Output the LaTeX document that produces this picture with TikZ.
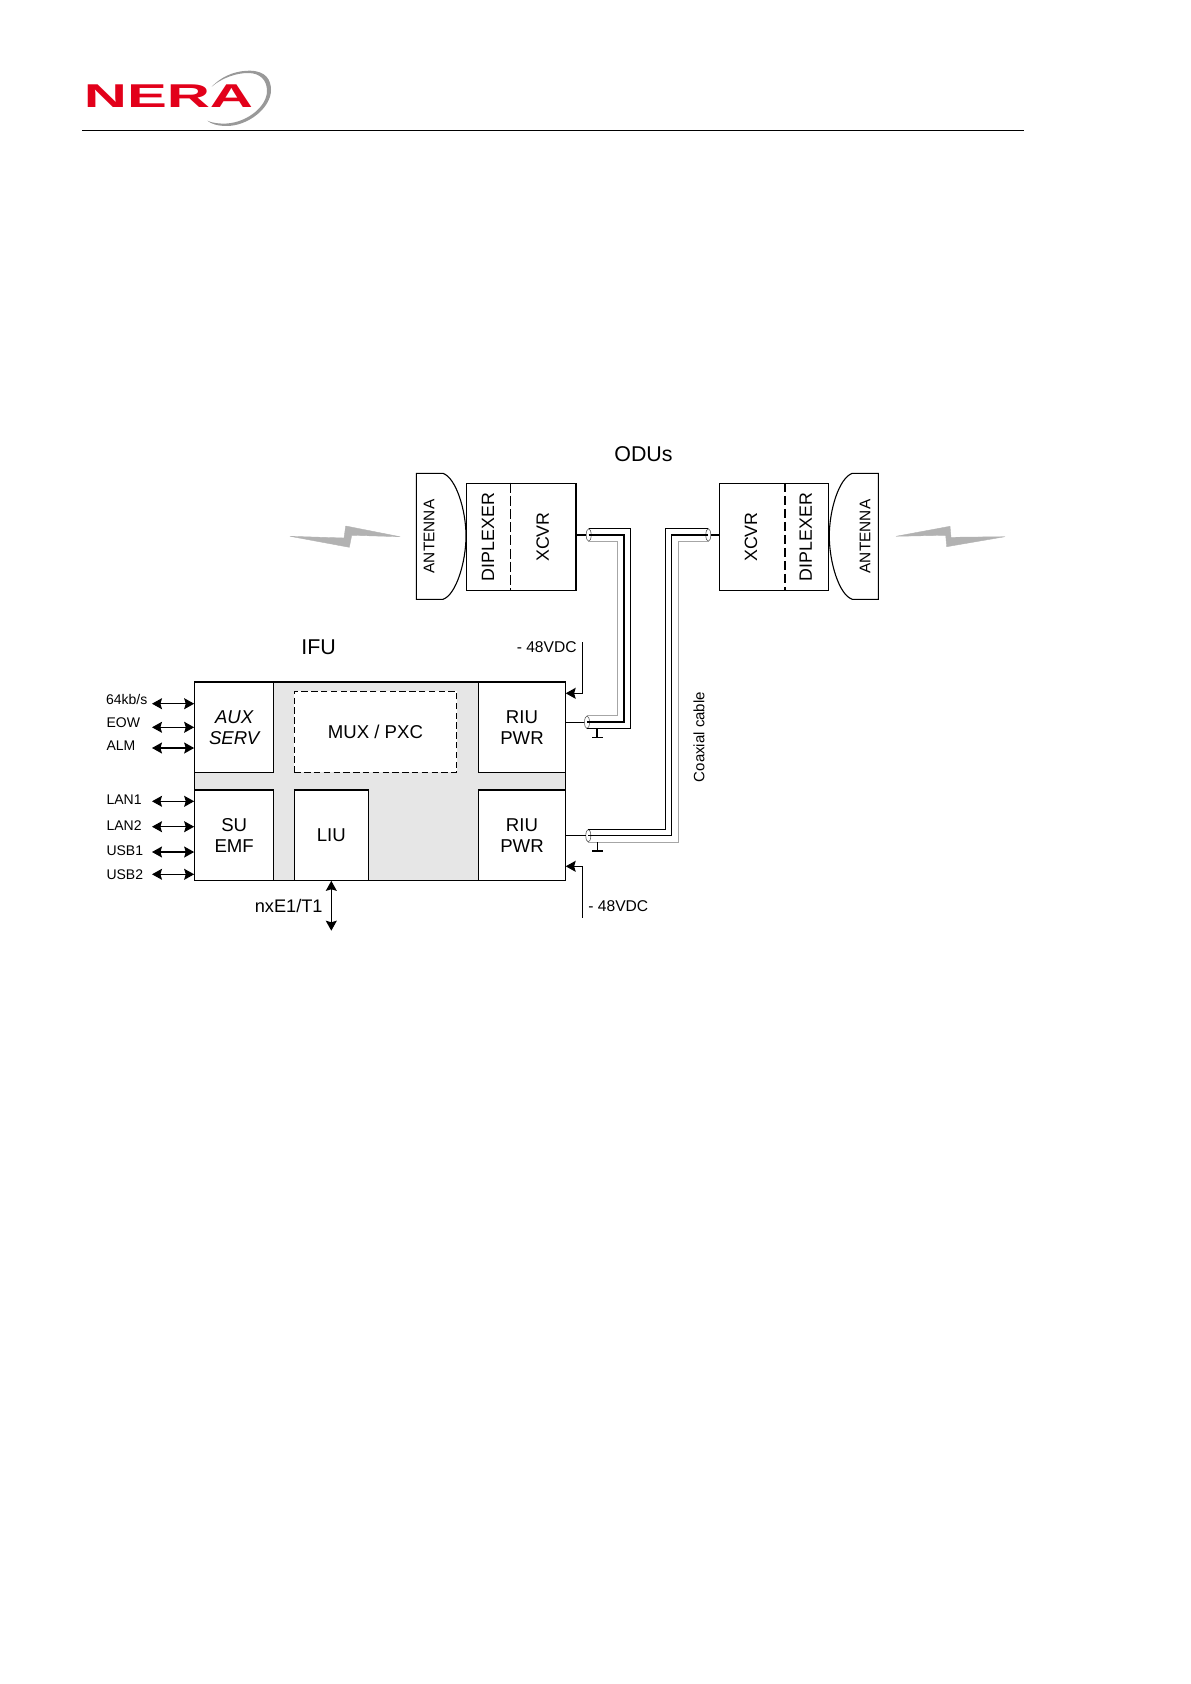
\documentclass[tikz,border=0pt]{standalone}
\usepackage{fontspec}
\setmainfont{Liberation Sans}
\usepackage{xcolor}
\usetikzlibrary{arrows.meta, shapes.geometric}
\definecolor{neraRed}{HTML}{E2001A}
\definecolor{panelGray}{HTML}{E6E6E6}

\begin{document}
\begin{tikzpicture}[
      x=0.5pt, y=-0.5pt,
      >={Stealth[length=5pt,width=5.5pt,inset=0.8pt]},
      line width=0.55pt,
      block/.style={rectangle, draw, fill=white, align=center, inner sep=0pt, font=\fontsize{9.3}{10.8}\selectfont},
      mainlabel/.style={font=\fontsize{10.7}{12}\selectfont},
      ifulabel/.style={anchor=west, inner sep=0pt, font=\fontsize{7}{8}\selectfont},
      vlabel/.style={rotate=90, inner sep=0pt, font=\fontsize{8.9}{10}\selectfont},
      antlabel/.style={rotate=90, inner sep=0pt, font=\fontsize{7.7}{9}\selectfont},
      powerlabel/.style={inner sep=0pt, font=\fontsize{7.8}{9}\selectfont},
      coaxcap/.style={ellipse, draw=black!65, line width=0.3pt, inner sep=0pt, minimum width=2.5pt, minimum height=6.3pt},
      bolt/.style={fill=black!30, draw=black!30, line width=0.2pt},
      coaxgray/.style={draw=black!35},
      heavy/.style={line width=0.95pt},
      dbl/.style={<->}
  ]
      \useasboundingbox (0,0) rectangle (1190,1684);

      % Header
      \node[text=neraRed, font=\bfseries\fontsize{16.5}{16.5}\selectfont, xscale=1.81, inner sep=0pt] (logo) at (168.5,96.5) {NERA};
      \fill[black!40] (211.7,86.7) .. controls (225,73) and (240,70.7) .. (250,70.7)
          .. controls (266,71) and (271,80) .. (271,90) .. controls (271,108) and (248,126) .. (226.7,126)
          .. controls (218,126) and (211,124) .. (207.3,120.7) .. controls (212,123) and (220,124) .. (227,123.5)
          .. controls (248,122) and (267,106) .. (267,91) .. controls (267,80) and (260,73) .. (248,73)
          .. controls (236,73) and (222,78) .. (211.7,86.7) -- cycle;
      \coordinate (ruleL) at (82,130.3);
      \coordinate (ruleR) at (1024,130.3);
      \draw[line width=0.45pt] (ruleL) -- (ruleR);

      % Titles
      \node[mainlabel] (odus) at (643.5,454.3) {ODUs};
      \node[mainlabel] (ifu) at (318.7,647.7) {IFU};

      % Left ODU
      \draw[bolt] (290,536.3) -- (344,538) -- (345.7,526) -- (400,536.7) -- (351.7,535.3) -- (349.3,547.3) -- cycle;
      \draw (416.3,473.3) -- (443,473.3) .. controls (456,478) and (466,510) .. (466,536)
          .. controls (466,562) and (456,595) .. (443,599.3) -- (416.3,599.3) -- cycle;
      \node[antlabel] (antA) at (429,536.5) {ANTENNA};
      \node[block, line width=0.8pt, minimum width=54.65pt, minimum height=53.5pt] (odA) at (521.3,536.8) {};
      \coordinate (dashA) at (510.3,536.8);
      \draw[dash pattern=on 5pt off 1.6pt] (odA.north -| dashA) -- (odA.south -| dashA);
      \node[vlabel] (dipA) at (488,537) {DIPLEXER};
      \node[vlabel] (xcvrA) at (542.7,537) {XCVR};

      % Right ODU
      \draw[bolt] (896,536.3) -- (950,526.3) -- (951,537.3) -- (1005,536.7) -- (946.7,546.7) -- (945.7,535.3) -- cycle;
      \draw (878.3,473.3) -- (852.3,473.3) .. controls (839,478) and (829.3,510) .. (829.3,536)
          .. controls (829.3,562) and (839,595) .. (852.3,599.3) -- (878.3,599.3) -- cycle;
      \node[antlabel] (antB) at (865,536.5) {ANTENNA};
      \node[block, minimum width=54.5pt, minimum height=53.5pt] (odB) at (773.8,536.8) {};
      \coordinate (dashB) at (785,536.8);
      \draw[dash pattern=on 4.5pt off 2pt, line width=0.8pt] (odB.north -| dashB) -- (odB.south -| dashB);
      \node[vlabel] (xcvrB) at (751,537) {XCVR};
      \node[vlabel] (dipB) at (805.7,537) {DIPLEXER};

      % IFU
      \node[rectangle, draw, fill=panelGray, inner sep=0pt, minimum width=185.5pt, minimum height=98.8pt] (panel) at (380.2,781.5) {};
      \node[block, minimum width=39.5pt, minimum height=44.8pt, font=\itshape\fontsize{9.3}{10.8}\selectfont] (aux) at (234.2,727.5) {AUX\\SERV};
      \node[block, minimum width=39.5pt, minimum height=44.8pt] (emf) at (234.2,835.5) {SU\\EMF};
      \node[block, dash pattern=on 3.2pt off 1.7pt, minimum width=81.1pt, minimum height=40.5pt] (mux) at (375.4,731.8) {MUX / PXC};
      \node[block, minimum width=37pt, minimum height=44.8pt] (liu) at (331.3,835.5) {LIU};
      \node[block, minimum width=43.7pt, minimum height=44.8pt] (riuA) at (522,727.5) {RIU\\PWR};
      \node[block, minimum width=43.7pt, minimum height=44.8pt] (riuB) at (522,835.5) {RIU\\PWR};
      \draw[heavy] (panel.north west) -- (panel.north east);
      \draw[heavy] (emf.north west) -- (emf.north east);
      \draw[heavy] (liu.north west) -- (liu.north east);
      \draw[heavy] (riuB.north west) -- (riuB.north east);

      % Service ports
      \node[ifulabel] (l64) at (105.5,699.3) {64kb/s};
      \node[ifulabel] (eow) at (106,722.3) {EOW};
      \node[ifulabel] (alm) at (106,746) {ALM};
      \node[ifulabel] (lan1) at (106,800) {LAN1};
      \node[ifulabel] (lan2) at (106,825.5) {LAN2};
      \node[ifulabel] (usb1) at (106,850.7) {USB1};
      \node[ifulabel] (usb2) at (106,875) {USB2};

      \coordinate (p64) at (152,703.7);
      \coordinate (peow) at (152,727.3);
      \coordinate (palm) at (152,748);
      \coordinate (plan1) at (152,801.3);
      \coordinate (plan2) at (152,826.7);
      \coordinate (pusb1) at (152,852);
      \coordinate (pusb2) at (152,874.3);
      \draw[dbl] (p64) -- (p64 -| aux.west);
      \draw[dbl] (peow) -- (peow -| aux.west);
      \draw[dbl] (palm) -- (palm -| aux.west);
      \draw[dbl] (plan1) -- (plan1 -| emf.west);
      \draw[dbl] (plan2) -- (plan2 -| emf.west);
      \draw[dbl] (pusb1) -- (pusb1 -| emf.west);
      \draw[dbl] (pusb2) -- (pusb2 -| emf.west);

      % Tributaries
      \coordinate (trib) at (331.3,930.7);
      \draw[dbl] (liu.south) -- (trib);
      \node[inner sep=0pt, font=\fontsize{9.1}{10}\selectfont] (nxe) at (288.7,906) {nxE1/T1};

      % Power
      \node[powerlabel] (vdcA) at (546.7,646.7) {- 48VDC};
      \node[powerlabel] (vdcB) at (618.3,906) {- 48VDC};
      \coordinate (pwrA) at (582.7,642.3);
      \coordinate (pwrB) at (582.7,917.7);
      \coordinate (inA) at (565.7,693.3);
      \coordinate (inB) at (565.7,866.3);
      \draw[->] (pwrA) |- (inA);
      \draw[->] (pwrB) |- (inB);

      % Coaxial cables
      \node[coaxcap] (capA) at (588.7,535) {};
      \node[coaxcap] (capB) at (587,722.3) {};
      \node[coaxcap] (capC) at (708.3,535) {};
      \node[coaxcap] (capD) at (588.3,835.7) {};

      \coordinate (outA) at (630.7,620);
      \coordinate (midA) at (624.2,620);
      \coordinate (innA) at (617.3,620);
      \draw (capA.north) -| (outA) |- (capB.south);
      \draw[line width=0.85pt] (capA.center) -| (midA) |- (capB.center);
      \draw[coaxgray] (capA.south) -| (innA) |- (capB.north);
      \draw (odA.east |- capA) -- (capA);
      \draw (riuA.east |- capB) -- (capB);

      \coordinate (outB) at (665.7,680);
      \coordinate (midB) at (671.7,680);
      \coordinate (innB) at (678.3,680);
      \draw (capC.north) -| (outB) |- (capD.north);
      \draw (capC.center) -| (midB) |- (capD.center);
      \draw[coaxgray] (capC.south) -| (innB) |- (capD.south);
      \draw (odB.west |- capC) -- (capC);
      \draw (riuB.east |- capD) -- (capD);

      % Ground
      \coordinate (gndA) at (597,737.3);
      \coordinate (gndB) at (597.3,851);
      \draw (gndA) -- ++(0,-8.3);
      \draw (gndA) ++(-5,0) -- ++(10.5,0);
      \draw (gndB) -- ++(0,-9.3);
      \draw (gndB) ++(-5,0) -- ++(10.5,0);

      \node[inner sep=0pt, rotate=90, font=\fontsize{7.5}{9}\selectfont] (coax) at (699,737) {Coaxial cable};
\end{tikzpicture}
\end{document}
